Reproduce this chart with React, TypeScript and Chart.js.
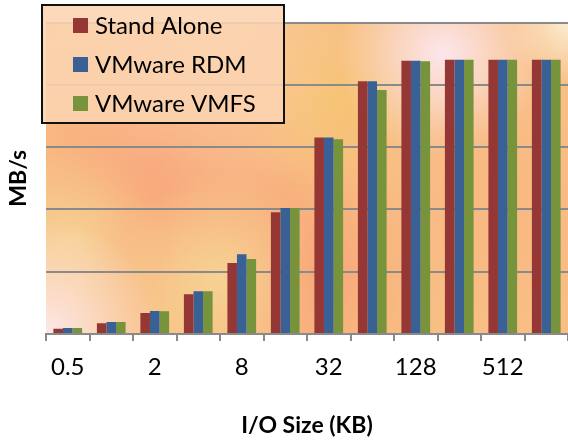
import React, { useEffect, useRef } from "react";
import { Chart, registerables } from "chart.js";

Chart.register(...registerables);

const categories = ["0.5", "1", "2", "4", "8", "16", "32", "64", "128", "256", "512", "1024"];
const standAlone = [8.5, 17.2, 33.7, 64, 114, 195.5, 315.5, 406, 439, 440.6, 440.6, 440.6];
const vmwareRdm = [9.6, 19.3, 36.9, 68.6, 128, 202.4, 315.5, 406, 439, 440.6, 440.6, 440.6];
const vmwareVmfs = [9.6, 19.3, 36.5, 68.6, 120.5, 202.4, 312.7, 392, 438, 440.6, 440.6, 440.6];
const seriesNames = ["Stand Alone", "VMware RDM", "VMware VMFS"];
const seriesColors = ["#953735", "#3A6195", "#77933C"];
const yMax = 500;
const yStep = 100;

const FONT = "Lato, 'Open Sans', sans-serif";

const backgroundPlugin = {
  id: "bgGradient",
  beforeDraw(chart: any) {
    const { ctx, chartArea } = chart;
    const { left, top, right, bottom } = chartArea;
    const w = right - left;
    const h = bottom - top;
    ctx.save();
    ctx.beginPath();
    ctx.rect(left, top, w, h);
    ctx.clip();
    ctx.fillStyle = "#F8BF85";
    ctx.fillRect(left, top, w, h);
    const blobs: [number, number, number, string][] = [
      [0.22, 0.45, 0.3, "rgba(248,160,118,0.9)"],
      [0.5, 0.8, 0.25, "rgba(248,162,118,0.9)"],
      [0.33, 0.82, 0.2, "rgba(246,214,150,0.9)"],
      [0.05, 0.7, 0.18, "rgba(246,214,150,0.8)"],
      [0.55, 0.25, 0.18, "rgba(247,196,110,0.8)"],
      [0.3, 0.1, 0.3, "rgba(250,210,170,0.7)"],
      [0.0, 1.0, 0.22, "rgba(253,232,232,1)"],
      [0.76, 0.1, 0.2, "rgba(252,230,236,1)"],
      [1.0, 0.0, 0.12, "rgba(251,236,210,1)"],
      [0.88, 0.6, 0.25, "rgba(248,178,128,0.6)"],
    ];
    for (const [fx, fy, fr, col] of blobs) {
      const cx = left + fx * w;
      const cy = top + fy * h;
      const r = fr * w;
      const g = ctx.createRadialGradient(cx, cy, 0, cx, cy, r);
      g.addColorStop(0, col);
      g.addColorStop(1, col.replace(/[\d.]+\)$/, "0)"));
      ctx.fillStyle = g;
      ctx.fillRect(left, top, w, h);
    }
    ctx.restore();
  },
};

const legendPlugin = {
  id: "boxLegend",
  afterDraw(chart: any) {
    const { ctx } = chart;
    const x0 = 42;
    const y0 = 5;
    const bw = 242;
    const bh = 118;
    ctx.save();
    ctx.fillStyle = "rgba(250,212,176,0.88)";
    ctx.fillRect(x0, y0, bw, bh);
    ctx.lineWidth = 2;
    ctx.strokeStyle = "#111";
    ctx.strokeRect(x0, y0, bw, bh);
    ctx.font = `24px ${FONT}`;
    ctx.textBaseline = "middle";
    ctx.textAlign = "left";
    chart.data.datasets.forEach((ds: any, i: number) => {
      const cy = 25 + i * 39;
      ctx.fillStyle = ds.backgroundColor;
      ctx.fillRect(73, cy - 7, 15, 15);
      ctx.fillStyle = "#000";
      ctx.fillText(ds.label, 95, cy + 1);
    });
    ctx.restore();
  },
};

export default function App() {
  const ref = useRef<HTMLCanvasElement>(null);
  useEffect(() => {
    if (!ref.current) return;
    const chart = new Chart(ref.current, {
      type: "bar",
      data: {
        labels: categories,
        datasets: [standAlone, vmwareRdm, vmwareVmfs].map((d, i) => ({
          label: seriesNames[i],
          data: d,
          backgroundColor: seriesColors[i],
          borderWidth: 0,
          categoryPercentage: 0.66,
          barPercentage: 1.0,
        })),
      },
      options: {
        responsive: false,
        animation: false,
        events: [],
        layout: { padding: { top: 22.7, right: 0, left: 0, bottom: 0 } },
        plugins: {
          legend: { display: false },
          tooltip: { enabled: false },
        },
        scales: {
          x: {
            grid: {
              offset: true,
              drawOnChartArea: false,
              drawTicks: true,
              tickLength: 7,
              color: "#8a8a8a",
              lineWidth: 2,
            },
            border: { display: true, color: "#8a8a8a", width: 2 },
            ticks: {
              autoSkip: false,
              maxRotation: 0,
              padding: 12,
              color: "#000",
              font: { family: FONT, size: 24 },
              callback: (_v: any, i: number) => (i % 2 === 0 ? categories[i] : ""),
            },
            title: {
              display: true,
              text: "I/O Size (KB)",
              color: "#000",
              font: { family: FONT, size: 23, weight: "bold" },
              padding: { top: 0, bottom: 4 },
            },
            afterFit: (s: any) => {
              s.height = 443 - 334;
            },
          },
          y: {
            min: 0,
            max: yMax,
            ticks: { display: false, stepSize: yStep },
            grid: { color: "#8a8a8a", lineWidth: 2, drawTicks: false },
            border: { display: false },
            title: {
              display: true,
              text: "MB/s",
              color: "#000",
              font: { family: FONT, size: 23, weight: "bold" },
              padding: { top: 5, bottom: 0 },
            },
            afterFit: (s: any) => {
              s.width = 46;
            },
          },
        },
      },
      plugins: [backgroundPlugin, legendPlugin],
    });
    return () => chart.destroy();
  }, []);
  return (
    <div style={{ position: "fixed", left: 0, top: 0, width: 568, height: 443, background: "#fff" }}>
      <canvas ref={ref} width={568} height={443} />
    </div>
  );
}
